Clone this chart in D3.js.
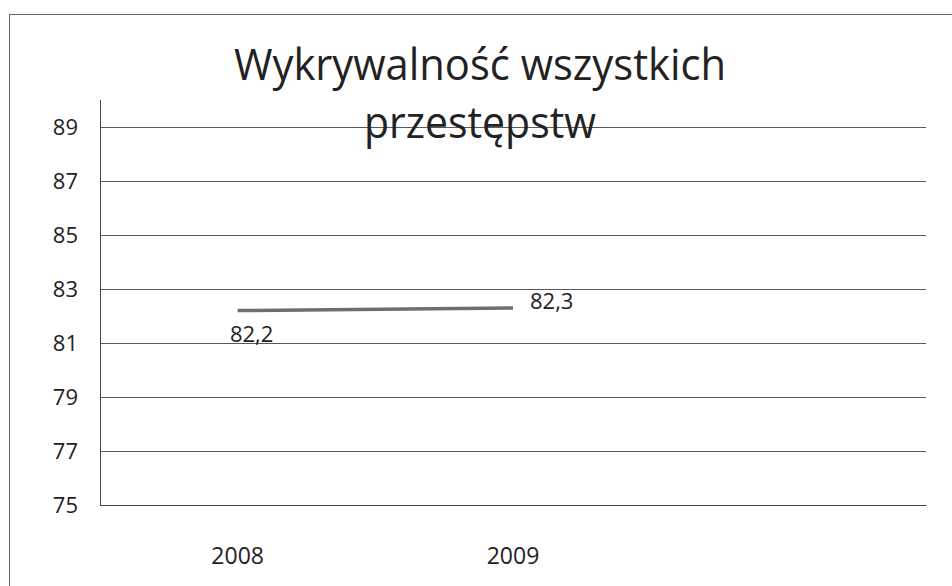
<!DOCTYPE html>
<html>
<head>
<meta charset="utf-8">
<script src="https://cdn.jsdelivr.net/npm/d3@7"></script>
<style>
  html, body { margin: 0; padding: 0; background: #fff; }
  svg { display: block; }
  text { font-family: "Open Sans", "Noto Sans", sans-serif; fill: #222; }
</style>
</head>
<body>
<svg id="chart" width="952" height="586"></svg>
<script>
// ---- data ----
const categories = ["2008", "2009", ""];
const values = [82.2, 82.3, null];
const valueLabels = ["82,2", "82,3", ""];
const yTicks = [75, 77, 79, 81, 83, 85, 87, 89];
const yDomain = [75, 90];
const titleLines = ["Wykrywalność wszystkich", "przestępstw"];

// ---- layout ----
const svg = d3.select("#chart");
const plot = { left: 100, right: 926, top: 100, bottom: 505 };

// outer frame
svg.append("rect")
  .attr("x", 9.5).attr("y", 14.5)
  .attr("width", 980).attr("height", 620)
  .attr("fill", "none").attr("stroke", "#666").attr("stroke-width", 1);

const x = d3.scaleBand().domain(categories).range([plot.left, plot.right]);
const y = d3.scaleLinear().domain(yDomain).range([plot.bottom, plot.top]);

// y axis with gridlines
const yAxis = svg.append("g")
  .attr("transform", `translate(${plot.left},0)`)
  .call(d3.axisLeft(y).tickValues(yTicks)
    .tickSize(-(plot.right - plot.left)).tickPadding(22)
    .tickFormat(d3.format("d")));
yAxis.select(".domain").remove();
yAxis.selectAll(".tick line").attr("stroke", "#5a5a5a").attr("stroke-width", 1);
yAxis.selectAll(".tick text")
  .style("font-size", "22px").attr("fill", "#1a1a1a");

// vertical axis line
svg.append("line")
  .attr("x1", plot.left + 0.5).attr("x2", plot.left + 0.5)
  .attr("y1", plot.top).attr("y2", plot.bottom)
  .attr("stroke", "#444").attr("stroke-width", 1);

// x axis
const xAxis = svg.append("g")
  .attr("transform", `translate(0,${plot.bottom})`)
  .call(d3.axisBottom(x).tickSize(0).tickPadding(43));
xAxis.select(".domain")
  .attr("stroke", "#444").attr("stroke-width", 1);
xAxis.selectAll(".tick text")
  .style("font-size", "23px").attr("fill", "#333");

// series line
const pts = categories.map((c, i) => ({ c, v: values[i], lab: valueLabels[i] }))
  .filter(d => d.v !== null);
const line = d3.line()
  .x(d => x(d.c) + x.bandwidth() / 2)
  .y(d => y(d.v));
svg.append("path")
  .datum(pts)
  .attr("d", line)
  .attr("fill", "none")
  .attr("stroke", "#6e6e6e")
  .attr("stroke-width", 3.5);

// data labels: first below, second right
svg.append("text")
  .attr("x", x(pts[0].c) + x.bandwidth() / 2 + 14)
  .attr("y", y(pts[0].v) + 31)
  .attr("text-anchor", "middle")
  .style("font-size", "22px")
  .attr("fill", "#333")
  .text(pts[0].lab);
svg.append("text")
  .attr("x", x(pts[1].c) + x.bandwidth() / 2 + 17)
  .attr("y", y(pts[1].v) + 1)
  .attr("text-anchor", "start")
  .style("font-size", "22px")
  .attr("fill", "#333")
  .text(pts[1].lab);

// title
const titleWidths = [492, 232];
const titleBase = [80, 138];
titleLines.forEach((t, i) => {
  svg.append("text")
    .attr("x", 480).attr("y", titleBase[i])
    .attr("text-anchor", "middle")
    .attr("textLength", titleWidths[i])
    .attr("lengthAdjust", "spacingAndGlyphs")
    .style("font-size", "44px")
    .style("font-weight", "500")
    .attr("fill", "#222")
    .text(t);
});
</script>
</body>
</html>
